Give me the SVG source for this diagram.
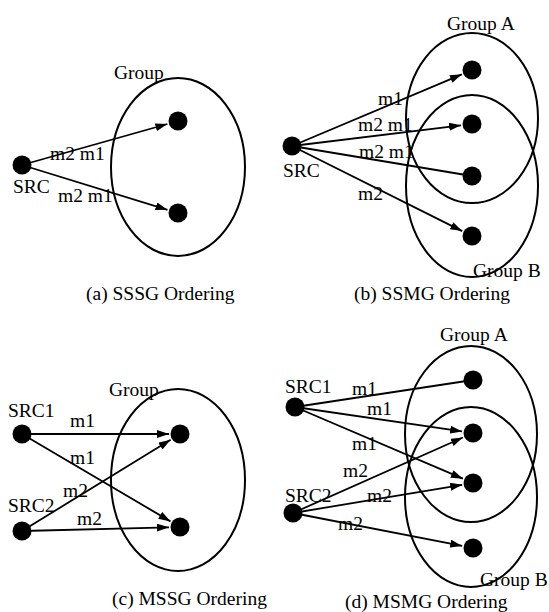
<svg xmlns="http://www.w3.org/2000/svg" width="549" height="612" viewBox="0 0 549 612">
<style>
text{font-family:"Liberation Serif","Times New Roman",serif;font-size:19.5px;fill:#000}
.grp{fill:none;stroke:#000;stroke-width:2}
.node{fill:#000}
.edge{stroke:#000;stroke-width:1.8;fill:none}
.arr{marker-end:url(#ah)}
</style>
<defs>
<marker id="ah" markerUnits="userSpaceOnUse" markerWidth="12" markerHeight="8" refX="12" refY="4" orient="auto">
<path d="M0,0 L12,4 L0,8 z" fill="#000"/>
</marker>
</defs>
<rect width="549" height="612" fill="#fff"/>

<!-- Panel (a) -->
<g id="a-group"><ellipse class="grp" cx="178" cy="167" rx="67" ry="89"/><text x="114" y="79">Group</text></g>
<g id="a-edges">
<line class="edge arr" x1="22" y1="165" x2="167.4" y2="124"/>
<line class="edge arr" x1="22" y1="165" x2="167.5" y2="209.8"/>
<text x="50" y="160">m2 m1</text>
<text x="58" y="202">m2 m1</text>
</g>
<g id="a-src"><circle class="node" cx="22" cy="165" r="9.5"/><text x="13" y="193">SRC</text></g>
<g id="a-n1"><circle class="node" cx="178" cy="121" r="9.5"/></g>
<g id="a-n2"><circle class="node" cx="178" cy="213" r="9.5"/></g>
<text x="86" y="300">(a) SSSG Ordering</text>

<!-- Panel (b) -->
<g id="b-groupA"><ellipse class="grp" cx="472" cy="118" rx="66" ry="85"/><text x="447" y="30">Group A</text></g>
<g id="b-groupB"><ellipse class="grp" cx="472" cy="186" rx="66" ry="91"/><text x="473" y="277">Group B</text></g>
<g id="b-edges">
<line class="edge arr" x1="292" y1="146" x2="461.9" y2="74.3"/>
<line class="edge arr" x1="292" y1="146" x2="461.1" y2="125.3"/>
<line class="edge" x1="292" y1="146" x2="472" y2="176"/>
<line class="edge arr" x1="292" y1="146" x2="462.2" y2="231.1"/>
<text x="378" y="105">m1</text>
<text x="358" y="131">m2 m1</text>
<text x="359" y="158">m2 m1</text>
<text x="358" y="200">m2</text>
</g>
<g id="b-src"><circle class="node" cx="292" cy="146" r="9.5"/><text x="283" y="177">SRC</text></g>
<g id="b-n1"><circle class="node" cx="472" cy="70" r="9.5"/></g>
<g id="b-n2"><circle class="node" cx="472" cy="124" r="9.5"/></g>
<g id="b-n3"><circle class="node" cx="472" cy="176" r="9.5"/></g>
<g id="b-n4"><circle class="node" cx="472" cy="236" r="9.5"/></g>
<text x="354" y="300">(b) SSMG Ordering</text>

<!-- Panel (c) -->
<g id="c-group"><ellipse class="grp" cx="178" cy="480" rx="67" ry="91"/><text x="109" y="396">Group</text></g>
<g id="c-edges">
<line class="edge arr" x1="22" y1="434" x2="169" y2="434"/>
<line class="edge arr" x1="22" y1="434" x2="170.5" y2="521.4"/>
<line class="edge arr" x1="22" y1="531" x2="170.6" y2="439.8"/>
<line class="edge arr" x1="22" y1="531" x2="169" y2="527.3"/>
<text x="70" y="427">m1</text>
<text x="70" y="464">m1</text>
<text x="63" y="497">m2</text>
<text x="77" y="525">m2</text>
</g>
<g id="c-src1"><circle class="node" cx="22" cy="434" r="9.5"/><text x="8" y="417">SRC1</text></g>
<g id="c-src2"><circle class="node" cx="22" cy="531" r="9.5"/><text x="8" y="512">SRC2</text></g>
<g id="c-n1"><circle class="node" cx="180" cy="434" r="9.5"/></g>
<g id="c-n2"><circle class="node" cx="180" cy="527" r="9.5"/></g>
<text x="112" y="605">(c) MSSG Ordering</text>

<!-- Panel (d) -->
<g id="d-groupA"><ellipse class="grp" cx="471" cy="434" rx="66" ry="88"/><text x="440" y="341">Group A</text></g>
<g id="d-groupB"><ellipse class="grp" cx="471" cy="497" rx="66" ry="90"/><text x="480" y="586">Group B</text></g>
<g id="d-edges">
<line class="edge" x1="295" y1="407" x2="473" y2="380"/>
<line class="edge arr" x1="295" y1="407" x2="462.1" y2="431.4"/>
<line class="edge arr" x1="295" y1="407" x2="462.9" y2="478.7"/>
<line class="edge arr" x1="293" y1="513" x2="462.9" y2="437.5"/>
<line class="edge arr" x1="293" y1="513" x2="462.2" y2="484.8"/>
<line class="edge arr" x1="293" y1="513" x2="462.2" y2="545.9"/>
<text x="352" y="395">m1</text>
<text x="367" y="415">m1</text>
<text x="352" y="450">m1</text>
<text x="343" y="477">m2</text>
<text x="367" y="502">m2</text>
<text x="338" y="530">m2</text>
</g>
<g id="d-src1"><circle class="node" cx="295" cy="407" r="9.5"/><text x="285" y="393">SRC1</text></g>
<g id="d-src2"><circle class="node" cx="293" cy="513" r="9.5"/><text x="285" y="502">SRC2</text></g>
<g id="d-n1"><circle class="node" cx="473" cy="380" r="9.5"/></g>
<g id="d-n2"><circle class="node" cx="473" cy="433" r="9.5"/></g>
<g id="d-n3"><circle class="node" cx="473" cy="483" r="9.5"/></g>
<g id="d-n4"><circle class="node" cx="473" cy="548" r="9.5"/></g>
<text x="345" y="608">(d) MSMG Ordering</text>
</svg>
